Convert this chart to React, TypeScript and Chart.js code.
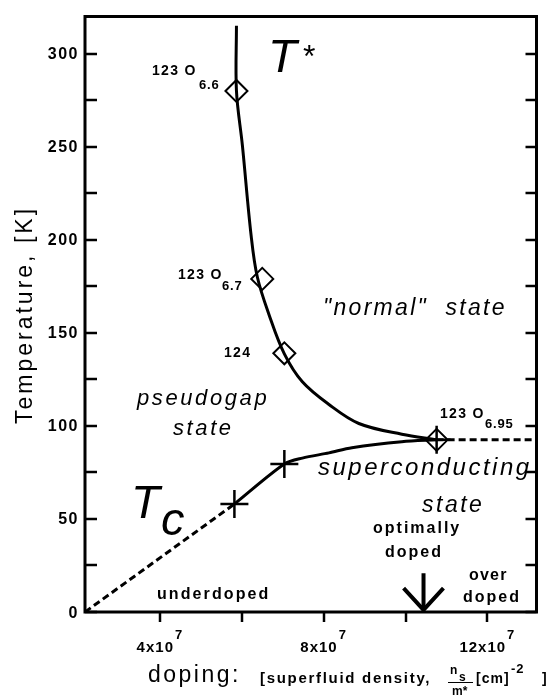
import React, { useEffect, useRef } from "react";
import { Chart, registerables } from "chart.js";

Chart.register(...registerables);

// ---- axis limits ----
const X_MIN = 2.17e7;
const X_MAX = 13.2e7;
const Y_MIN = 0;
const Y_MAX = 320;

// ---- tick values / labels ----
const yTickValues = [0, 25, 50, 75, 100, 125, 150, 175, 200, 225, 250, 275, 300];
const yLabelValues = [0, 50, 100, 150, 200, 250, 300];
const xTickValues = [4e7, 6e7, 8e7, 10e7, 12e7];
const xLabelValues = [4e7, 8e7, 12e7];
const xLabelMantissa = ["4x10", "8x10", "12x10"];
const xLabelExponent = "7";

// ---- T* curve (pseudogap line) ----
const tStarX = [5.87e7, 5.87e7, 6.015e7, 6.23e7, 6.38e7, 6.67e7, 7.04e7, 7.48e7, 8.13e7, 8.86e7, 9.91e7, 10.76e7];
const tStarY = [315, 280, 250.7, 202, 180, 159.5, 138.7, 123.7, 111.5, 101.3, 95.5, 92.5];

// ---- Tc curve (solid part) ----
const tcX = [5.82e7, 7.04e7, 7.48e7, 8.13e7, 8.69e7, 9.91e7, 10.76e7];
const tcY = [58, 79.5, 82.7, 85.5, 88.3, 91.5, 92.5];

// ---- Tc extrapolation (dashed) ----
const tcDashX = [2.17e7, 5.82e7];
const tcDashY = [0, 58];

// ---- overdoped dashed line ----
const overDashX = [10.76e7, 13.2e7];
const overDashY = [92.5, 92.5];

// ---- markers ----
const diamondX = [5.87e7, 6.5e7, 7.04e7, 10.76e7];
const diamondY = [280, 179, 139, 92.5];
const crossX = [5.82e7, 7.04e7, 10.76e7];
const crossY = [58, 79.5, 92.5];

// ---- optimal doping arrow ----
const arrowShaftX = [10.44e7, 10.44e7];
const arrowShaftY = [20.8, 1.1];
const arrowHeadX = [9.953e7, 10.44e7, 10.927e7];
const arrowHeadY = [12.8, 1.1, 12.8];

const pts = (xs: number[], ys: number[]) => xs.map((x, i) => ({ x, y: ys[i] }));

const FONT = '"Liberation Sans", Arial, Helvetica, sans-serif';

function txt(
  ctx: CanvasRenderingContext2D,
  s: string,
  x: number,
  y: number,
  font: string,
  spacing = 0,
  align: CanvasTextAlign = "left"
) {
  ctx.font = font;
  (ctx as any).letterSpacing = spacing + "px";
  ctx.textAlign = align;
  ctx.textBaseline = "alphabetic";
  ctx.fillStyle = "#000";
  ctx.fillText(s, x, y);
  (ctx as any).letterSpacing = "0px";
}

const framePlugin = {
  id: "framePlugin",
  afterDatasetsDraw(chart: any) {
    const { ctx, chartArea, scales } = chart;
    const xs = scales.x;
    const ys = scales.y;
    const { left, right, top, bottom } = chartArea;
    ctx.save();
    ctx.strokeStyle = "#000";
    ctx.lineCap = "butt";

    // frame
    ctx.lineWidth = 3;
    ctx.strokeRect(left, top, right - left, bottom - top);

    // y ticks (inward, both sides)
    ctx.lineWidth = 2.5;
    yTickValues.forEach((v) => {
      const py = Math.round(ys.getPixelForValue(v));
      ctx.beginPath();
      ctx.moveTo(left, py);
      ctx.lineTo(left + 12, py);
      ctx.moveTo(right, py);
      ctx.lineTo(right - 11, py);
      ctx.stroke();
    });
    // x ticks (outward)
    xTickValues.forEach((v) => {
      const px = Math.round(xs.getPixelForValue(v));
      ctx.beginPath();
      ctx.moveTo(px, bottom);
      ctx.lineTo(px, bottom + 10);
      ctx.stroke();
    });

    // y tick labels
    yLabelValues.forEach((v) => {
      const py = ys.getPixelForValue(v);
      txt(ctx, String(v), 79, py + 5.5, `bold 16px ${FONT}`, 1.5, "right");
    });

    // x tick labels with superscript exponent
    xLabelValues.forEach((v, i) => {
      const px = xs.getPixelForValue(v);
      ctx.font = `bold 15px ${FONT}`;
      (ctx as any).letterSpacing = "1px";
      const wm = ctx.measureText(xLabelMantissa[i]).width;
      ctx.font = `bold 13px ${FONT}`;
      const we = ctx.measureText(xLabelExponent).width;
      (ctx as any).letterSpacing = "0px";
      const start = px - (wm + we + 1) / 2;
      txt(ctx, xLabelMantissa[i], start, 652, `bold 15px ${FONT}`, 1);
      txt(ctx, xLabelExponent, start + wm + 1, 639, `bold 13px ${FONT}`, 0);
    });

    // y axis title
    ctx.save();
    ctx.translate(32, 424);
    ctx.rotate(-Math.PI / 2);
    txt(ctx, "Temperature, [K]", 0, 0, `23px ${FONT}`, 3);
    ctx.restore();

    // x axis title
    txt(ctx, "doping:", 148, 682, `23px ${FONT}`, 2.5);
    txt(ctx, "[superfluid density,", 260, 683, `bold 15px ${FONT}`, 1.7);
    // fraction n_s / m*
    txt(ctx, "n", 450, 674, `bold 12px ${FONT}`, 0);
    txt(ctx, "s", 459, 681, `bold 12px ${FONT}`, 0);
    ctx.lineWidth = 1;
    ctx.beginPath();
    ctx.moveTo(448, 682.5);
    ctx.lineTo(473, 682.5);
    ctx.stroke();
    txt(ctx, "m*", 452, 695, `bold 12px ${FONT}`, 0);
    txt(ctx, "[cm]", 476, 683, `bold 14px ${FONT}`, 1);
    txt(ctx, "-2", 511, 673, `bold 13px ${FONT}`, 1);
    txt(ctx, "]", 542, 683, `bold 14px ${FONT}`, 0);

    // T* label
    txt(ctx, "T", 268, 72, `italic 47px ${FONT}`, 0);
    txt(ctx, "*", 303, 67, `32px ${FONT}`, 0);
    // Tc label
    txt(ctx, "T", 131, 518, `italic 47px ${FONT}`, 0);
    txt(ctx, "c", 161, 535, `italic 47px ${FONT}`, 0);

    // sample labels
    const lb = `bold 14px ${FONT}`;
    const sb = `bold 13px ${FONT}`;
    txt(ctx, "123 O", 152, 75, lb, 1.3);
    txt(ctx, "6.6", 199, 89, sb, 0.8);
    txt(ctx, "123 O", 178, 279, lb, 1.3);
    txt(ctx, "6.7", 222, 290, sb, 0.8);
    txt(ctx, "124", 224, 357, lb, 1.3);
    txt(ctx, "123 O", 440, 418, lb, 1.3);
    txt(ctx, "6.95", 485, 428, sb, 0.8);

    // region labels
    const it = `italic 22px ${FONT}`;
    txt(ctx, "\"normal\"  state", 323, 315, `italic 23px ${FONT}`, 2.3);
    txt(ctx, "pseudogap", 137, 405, it, 2.6);
    txt(ctx, "state", 173, 435, it, 2.6);
    txt(ctx, "superconducting", 318, 475, `italic 24px ${FONT}`, 2.5);
    txt(ctx, "state", 422, 512, `italic 23px ${FONT}`, 2.5);

    const bd = `bold 16px ${FONT}`;
    txt(ctx, "optimally", 373, 533, bd, 2);
    txt(ctx, "doped", 385, 557, bd, 2);
    txt(ctx, "over", 469, 580, bd, 1.2);
    txt(ctx, "doped", 463, 602, bd, 2);
    txt(ctx, "underdoped", 157, 599, bd, 2.1);

    ctx.restore();
  },
};

export default function App() {
  const ref = useRef<HTMLCanvasElement | null>(null);

  useEffect(() => {
    document.body.style.margin = "0";
    const canvas = ref.current;
    if (!canvas) return;
    const chart = new Chart(canvas, {
      type: "line",
      data: {
        datasets: [
          {
            data: pts(tStarX, tStarY),
            borderColor: "#000",
            borderWidth: 3,
            pointRadius: 0,
            tension: 0.35,
            fill: false,
          },
          {
            data: pts(tcX, tcY),
            borderColor: "#000",
            borderWidth: 3,
            pointRadius: 0,
            tension: 0.3,
            fill: false,
          },
          {
            data: pts(tcDashX, tcDashY),
            borderColor: "#000",
            borderWidth: 3,
            borderDash: [7, 4],
            pointRadius: 0,
            fill: false,
          },
          {
            data: pts(overDashX, overDashY),
            borderColor: "#000",
            borderWidth: 3,
            borderDash: [7, 4],
            pointRadius: 0,
            fill: false,
          },
          {
            data: pts(arrowShaftX, arrowShaftY),
            borderColor: "#000",
            borderWidth: 4,
            pointRadius: 0,
            fill: false,
          },
          {
            data: pts(arrowHeadX, arrowHeadY),
            borderColor: "#000",
            borderWidth: 4,
            borderJoinStyle: "miter",
            pointRadius: 0,
            fill: false,
          },
          {
            data: pts(diamondX, diamondY),
            showLine: false,
            pointStyle: "rectRot",
            pointRadius: 11,
            pointBorderWidth: 2,
            pointBorderColor: "#000",
            pointBackgroundColor: "rgba(0,0,0,0)",
          },
          {
            data: pts(crossX, crossY),
            showLine: false,
            pointStyle: "cross",
            pointRadius: 14,
            pointBorderWidth: 2.5,
            pointBorderColor: "#000",
            pointBackgroundColor: "rgba(0,0,0,0)",
          },
        ],
      },
      options: {
        responsive: false,
        animation: false,
        devicePixelRatio: 1,
        layout: { padding: { left: 85, right: 16, top: 12, bottom: 84 } },
        scales: {
          x: { type: "linear", min: X_MIN, max: X_MAX, display: false },
          y: { type: "linear", min: Y_MIN, max: Y_MAX, display: false },
        },
        plugins: {
          legend: { display: false },
          tooltip: { enabled: false },
        },
      },
      plugins: [framePlugin],
    } as any);
    return () => chart.destroy();
  }, []);

  return (
    <div style={{ width: 553, height: 696, background: "#fff" }}>
      <canvas ref={ref} width={553} height={696} style={{ display: "block", width: 553, height: 696 }} />
    </div>
  );
}
